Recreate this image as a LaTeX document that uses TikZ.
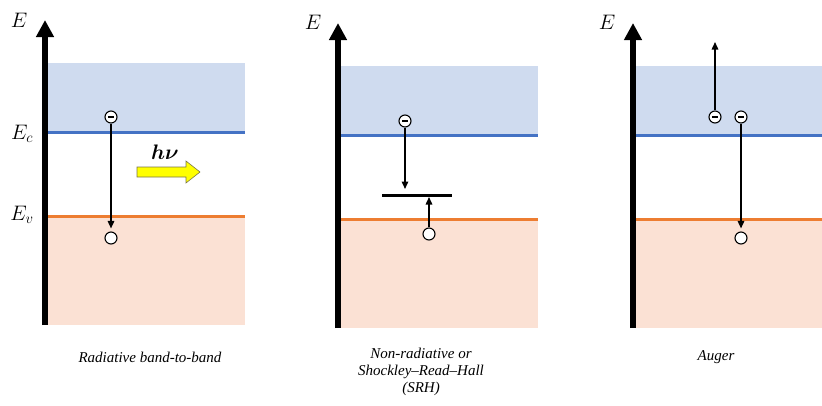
\documentclass[tikz,border=0pt]{standalone}
\usepackage{fix-cm}
\usepackage{fontspec}
\setmainfont{Liberation Serif}
\usepackage{bm}
\usetikzlibrary{arrows.meta}
\definecolor{cbfill}{RGB}{207,219,239}
\definecolor{vbfill}{RGB}{251,225,212}
\definecolor{cbline}{RGB}{68,114,196}
\definecolor{vbline}{RGB}{237,125,49}
\definecolor{photon}{RGB}{255,255,0}
\tikzset{
  axisline/.style={line width=5.5pt,-{Triangle[width=17pt,length=17pt]}},
  cbband/.style={fill=cbfill,draw=none},
  vbband/.style={fill=vbfill,draw=none},
  cbedge/.style={draw=cbline,line width=3pt},
  vbedge/.style={draw=vbline,line width=3pt},
  electron/.style={circle,draw,fill=white,line width=1.1pt,minimum size=12pt,inner sep=0pt,
    path picture={\draw[line width=2pt] ([xshift=-2.6pt]path picture bounding box.center) -- ([xshift=2.6pt]path picture bounding box.center);}},
  hole/.style={circle,draw,fill=white,line width=1.1pt,minimum size=12pt,inner sep=0pt},
  transition/.style={line width=1.5pt,-{Triangle[width=6.5pt,length=7.5pt]}},
  trap/.style={line width=3pt},
  axislabel/.style={font=\fontsize{21}{21}\selectfont,inner sep=0pt},
  caption/.style={font=\fontsize{15}{17}\selectfont\itshape,align=center,inner sep=0pt}
}
\begin{document}
\begin{tikzpicture}[x=1pt,y=-1pt]
\useasboundingbox (0,0) rectangle (822,405);

% ---------- radiative band-to-band ----------
\fill[cbband] (48,63) rectangle (245,131);
\fill[vbband] (48,216) rectangle (245,325);
\coordinate (c1l) at (48,132); \coordinate (c1r) at (245,132);
\coordinate (v1l) at (48,216); \coordinate (v1r) at (245,216);
\draw[cbedge] (c1l) -- (c1r);
\draw[vbedge] (v1l) -- (v1r);
\coordinate (ax1b) at (45,325); \coordinate (ax1t) at (45,20);
\draw[axisline] (ax1b) -- (ax1t);
\node[axislabel] (E1) at (19,20) {$E$};
\node[axislabel] (Ec) at (22,134) {$E_c$};
\node[axislabel] (Ev) at (22,215) {$E_v$};
\node[electron] (e1) at (111,117) {};
\node[hole] (h1) at (111,238) {};
\draw[transition] (e1) -- ([yshift=3pt]h1.north);
\node[inner sep=0pt,font=\fontsize{21}{21}\selectfont] (hv) at (165,152) {$\bm{h\nu}$};
\draw[fill=photon,draw=black!60!yellow,line width=0.6pt]
  (137,167) -- (186,167) -- (186,161) -- (200,172) -- (186,183) -- (186,177) -- (137,177) -- cycle;
\node[caption] (cap1) at (150,357) {Radiative band-to-band};

% ---------- non-radiative / SRH ----------
\begin{scope}[shift={(293,3)}]
\fill[cbband] (48,63) rectangle (245,131);
\fill[vbband] (48,216) rectangle (245,325);
\coordinate (c2l) at (48,132); \coordinate (c2r) at (245,132);
\coordinate (v2l) at (48,216); \coordinate (v2r) at (245,216);
\draw[cbedge] (c2l) -- (c2r);
\draw[vbedge] (v2l) -- (v2r);
\coordinate (ax2b) at (45,325); \coordinate (ax2t) at (45,20);
\draw[axisline] (ax2b) -- (ax2t);
\node[axislabel] (E2) at (20,19) {$E$};
\node[electron] (e2) at (112,118) {};
\node[hole] (h2) at (136,231) {};
\coordinate (t2l) at (89,192); \coordinate (t2r) at (159,192);
\draw[trap] (t2l) -- (t2r);
\coordinate (t2a) at (112,186);
\coordinate (t2b) at (136,194);
\draw[transition] (e2) -- (t2a);
\draw[transition] (h2) -- (t2b);
\end{scope}
\node[caption] (cap2) at (421,372) {Non-radiative or\\Shockley–Read–Hall\\(SRH)};

% ---------- Auger ----------
\begin{scope}[shift={(588,3)}]
\fill[cbband] (48,63) rectangle (240,131);
\fill[vbband] (48,216) rectangle (240,325);
\coordinate (c3l) at (48,132); \coordinate (c3r) at (240,132);
\coordinate (v3l) at (48,216); \coordinate (v3r) at (240,216);
\draw[cbedge] (c3l) -- (c3r);
\draw[vbedge] (v3l) -- (v3r);
\coordinate (ax3b) at (45,325); \coordinate (ax3t) at (45,20);
\draw[axisline] (ax3b) -- (ax3t);
\node[axislabel] (E3) at (19,19) {$E$};
\node[electron] (e3a) at (127,114) {};
\node[electron] (e3b) at (153,114) {};
\node[hole] (h3) at (153,235) {};
\coordinate (up3) at (127,39);
\draw[transition] (e3a) -- (up3);
\draw[transition] (e3b) -- ([yshift=3pt]h3.north);
\end{scope}
\node[caption] (cap3) at (716,357) {Auger};
\end{tikzpicture}
\end{document}
